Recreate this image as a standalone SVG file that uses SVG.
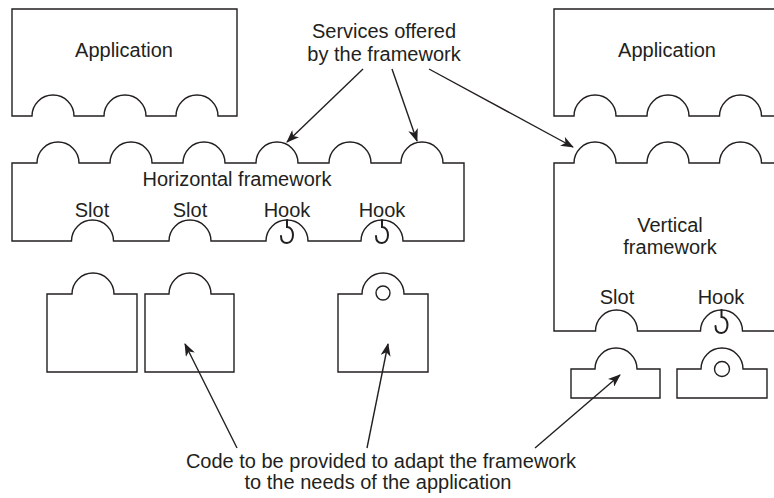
<svg xmlns="http://www.w3.org/2000/svg" width="774" height="498" viewBox="0 0 774 498">
<defs>
<style>
.s{fill:#fff;stroke:#231f20;stroke-width:1.4;stroke-linejoin:miter}
.h{fill:none;stroke:#231f20;stroke-width:2;stroke-linecap:round}
.t{font-family:"Liberation Sans",Arial,sans-serif;font-size:20px;fill:#231f20;text-anchor:middle}
.c{fill:none;stroke:#231f20;stroke-width:1.4}
</style>
<marker id="ah" viewBox="0 0 13 10" refX="12" refY="5" markerWidth="13" markerHeight="10" markerUnits="userSpaceOnUse" orient="auto">
<path d="M0,0 L13,5 L0,10 L3.5,5 Z" fill="#231f20"/>
</marker>
</defs>
<rect width="774" height="498" fill="#fff"/>

<g id="app-left">
<path class="s" d="M12,9 H237 V116 H218 A21,21 0 0 0 176,116 H146 A21,21 0 0 0 104,116 H74 A21,21 0 0 0 32,116 H12 Z"/>
<text class="t" x="124" y="57">Application</text>
</g>

<g id="app-right">
<path class="s" d="M780,9 H554 V116 H574 A21,21 0 0 1 616,116 H647 A21,21 0 0 1 689,116 H719.5 A21,21 0 0 1 761.5,116 H780"/>
<text class="t" x="667" y="57">Application</text>
</g>

<g id="services-label">
<text class="t" x="384" y="38">Services offered</text>
<text class="t" x="384" y="61">by the framework</text>
</g>

<g id="horizontal-framework">
<path class="s" d="M12,241 V163 H37 A21,21 0 0 1 79,163 H110 A21,21 0 0 1 152,163 H183 A21,21 0 0 1 225,163 H256 A21,21 0 0 1 298,163 H329 A21,21 0 0 1 371,163 H401 A21,21 0 0 1 443,163 H464 V241 H403 A21,21 0 0 0 361,241 H308 A21,21 0 0 0 266,241 H211 A21,21 0 0 0 169,241 H113.5 A21,21 0 0 0 71.5,241 H12 Z"/>
<path class="h" d="M287,220 V227 C295,227 295,243 287,243 C282,243 281,239 281,236"/>
<path class="h" d="M382,220 V227 C390,227 390,243 382,243 C377,243 376,239 376,236"/>
<text class="t" x="237" y="186">Horizontal framework</text>
<text class="t" x="92" y="217">Slot</text>
<text class="t" x="190" y="217">Slot</text>
<text class="t" x="287" y="217">Hook</text>
<text class="t" x="382" y="217">Hook</text>
</g>

<g id="vertical-framework">
<path class="s" d="M780,163 H761.5 A21,21 0 0 0 719.5,163 H689 A21,21 0 0 0 647,163 H616 A21,21 0 0 0 574,163 H554 V331 H595.5 A21,21 0 0 1 637.5,331 H700.5 A21,21 0 0 1 742.5,331 H780"/>
<path class="h" d="M721.5,310 V317 C729.5,317 729.5,333 721.5,333 C716.5,333 715.5,329 715.5,326"/>
<text class="t" x="670" y="232">Vertical</text>
<text class="t" x="670" y="254">framework</text>
<text class="t" x="617" y="304">Slot</text>
<text class="t" x="721" y="304">Hook</text>
</g>

<g id="piece-slot-1">
<path class="s" d="M47,372 V294 H72 A21,21 0 0 1 114,294 H137 V372 Z"/>
</g>
<g id="piece-slot-2">
<path class="s" d="M145,372 V294 H169 A21,21 0 0 1 211,294 H234 V372 Z"/>
</g>
<g id="piece-hook-1">
<path class="s" d="M338,372 V294 H362 A21,21 0 0 1 404,294 H428 V372 Z"/>
<circle class="s" cx="383" cy="293" r="7"/>
</g>
<g id="piece-slot-v">
<path class="s" d="M571,398 V369 H595 A21,21 0 0 1 637,369 H660 V398 Z"/>
</g>
<g id="piece-hook-v">
<path class="s" d="M677,398 V369 H701 A21,21 0 0 1 743,369 H767 V398 Z"/>
<circle class="s" cx="722" cy="369" r="7.5"/>
</g>

<g id="code-label">
<text class="t" x="381" y="468">Code to be provided to adapt the framework</text>
<text class="t" x="378" y="489">to the needs of the application</text>
</g>

<g id="connectors">
<line class="c" x1="363" y1="69" x2="287" y2="142" marker-end="url(#ah)"/>
<line class="c" x1="392" y1="69" x2="417" y2="141" marker-end="url(#ah)"/>
<line class="c" x1="429" y1="69" x2="573" y2="147" marker-end="url(#ah)"/>
<line class="c" x1="237" y1="448" x2="185" y2="344" marker-end="url(#ah)"/>
<line class="c" x1="367" y1="448" x2="388" y2="344" marker-end="url(#ah)"/>
<line class="c" x1="535" y1="448" x2="620" y2="375" marker-end="url(#ah)"/>
</g>
</svg>
